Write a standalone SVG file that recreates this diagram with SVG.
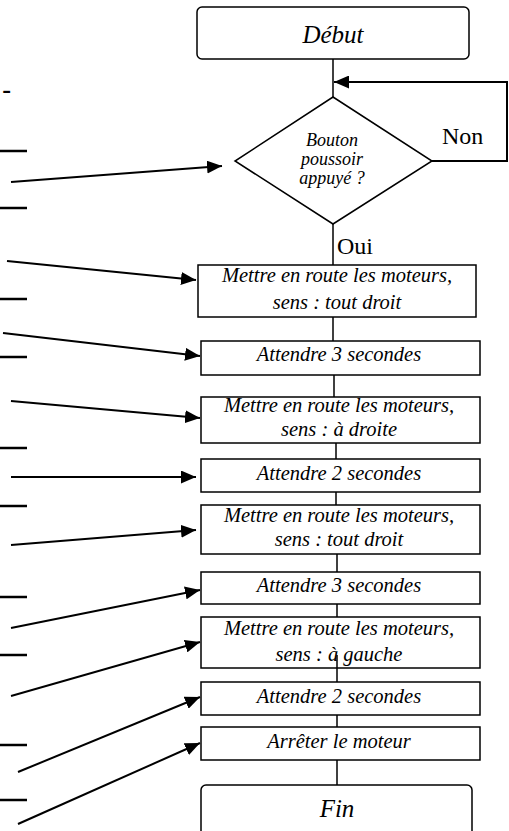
<svg xmlns="http://www.w3.org/2000/svg" width="509" height="831" viewBox="0 0 509 831">
<defs>
<marker id="ah" markerUnits="userSpaceOnUse" markerWidth="16" markerHeight="13" refX="15" refY="6.5" orient="auto">
<path d="M0,0 L15,6.5 L0,13 z" fill="#000"/>
</marker>
<style>
.box{fill:#fff;stroke:#000;stroke-width:1.5}
.ln{fill:none;stroke:#000;stroke-width:1.5}
.ar{fill:none;stroke:#000;stroke-width:2;marker-end:url(#ah)}
.bl{stroke:#000;stroke-width:2.5}
.t{font-family:"Liberation Serif","Times New Roman",serif;font-style:italic;text-anchor:middle;fill:#000}
.s{font-size:20.5px}
.d{font-size:18px}
.big{font-size:25px}
.lab{font-family:"Liberation Serif","Times New Roman",serif;font-size:24px;fill:#000}
</style>
</defs>
<rect width="509" height="831" fill="#fff"/>
<text x="2" y="99" font-family="Liberation Sans, Arial, sans-serif" font-size="28">-</text>
<g id="blanks">
<line class="bl" x1="0" y1="151" x2="27" y2="151"/>
<line class="bl" x1="0" y1="208" x2="27" y2="208"/>
<line class="bl" x1="0" y1="299" x2="27" y2="299"/>
<line class="bl" x1="0" y1="357" x2="27" y2="357"/>
<line class="bl" x1="0" y1="448" x2="27" y2="448"/>
<line class="bl" x1="0" y1="506" x2="27" y2="506"/>
<line class="bl" x1="0" y1="597" x2="27" y2="597"/>
<line class="bl" x1="0" y1="655" x2="27" y2="655"/>
<line class="bl" x1="0" y1="745" x2="27" y2="745"/>
<line class="bl" x1="0" y1="800" x2="27" y2="800"/>
</g>
<g id="connectors">
<line class="ln" x1="333" y1="59" x2="333" y2="97"/>
<line class="ln" x1="333" y1="224" x2="333" y2="265"/>
<line class="ln" x1="333" y1="317" x2="333" y2="341"/>
<line class="ln" x1="334" y1="375" x2="334" y2="397"/>
<line class="ln" x1="336" y1="443" x2="336" y2="459"/>
<line class="ln" x1="336" y1="492" x2="336" y2="505"/>
<line class="ln" x1="337" y1="554" x2="337" y2="572"/>
<line class="ln" x1="337" y1="604" x2="337" y2="617"/>
<line class="ln" x1="337" y1="668" x2="337" y2="682"/>
<line class="ln" x1="337" y1="715" x2="337" y2="727"/>
<line class="ln" x1="337" y1="760" x2="337" y2="785"/>
<path class="ar" d="M432,161 H507 V82 H334"/>
<line class="ar" x1="11" y1="182" x2="222" y2="166"/>
<line class="ar" x1="7" y1="261" x2="196" y2="280"/>
<line class="ar" x1="3" y1="333" x2="200" y2="356"/>
<line class="ar" x1="11" y1="401" x2="200" y2="418"/>
<line class="ar" x1="11" y1="477" x2="196" y2="477"/>
<line class="ar" x1="11" y1="545" x2="196" y2="530"/>
<line class="ar" x1="11" y1="628" x2="200" y2="590"/>
<line class="ar" x1="11" y1="696" x2="200" y2="642"/>
<line class="ar" x1="18" y1="772" x2="200" y2="697"/>
<line class="ar" x1="18" y1="824" x2="200" y2="743"/>
<text class="lab" x="442" y="144">Non</text>
<text class="lab" x="337" y="254">Oui</text>
</g>
<g id="debut">
<rect class="box" x="197" y="7" width="272" height="52" rx="5"/>
<text class="t big" x="333" y="43">Début</text>
</g>
<g id="decision">
<polygon class="box" points="333,97 432,161 333,224 235,161"/>
<text class="t d" x="332" y="146">Bouton</text>
<text class="t d" x="332" y="165">poussoir</text>
<text class="t d" x="332" y="184">appuyé ?</text>
</g>
<g id="step1">
<rect class="box" x="198" y="265" width="278" height="52"/>
<text class="t s" x="337" y="282">Mettre en route les moteurs,</text>
<text class="t s" x="337" y="309">sens : tout droit</text>
</g>
<g id="step2">
<rect class="box" x="201" y="341" width="279" height="34"/>
<text class="t s" x="339" y="361">Attendre 3 secondes</text>
</g>
<g id="step3">
<rect class="box" x="201" y="397" width="279" height="46"/>
<text class="t s" x="339" y="412">Mettre en route les moteurs,</text>
<text class="t s" x="339" y="436">sens : à droite</text>
</g>
<g id="step4">
<rect class="box" x="201" y="459" width="279" height="33"/>
<text class="t s" x="339" y="480">Attendre 2 secondes</text>
</g>
<g id="step5">
<rect class="box" x="201" y="505" width="279" height="49"/>
<text class="t s" x="339" y="522">Mettre en route les moteurs,</text>
<text class="t s" x="339" y="546">sens : tout droit</text>
</g>
<g id="step6">
<rect class="box" x="201" y="572" width="279" height="32"/>
<text class="t s" x="339" y="592">Attendre 3 secondes</text>
</g>
<g id="step7">
<rect class="box" x="201" y="617" width="279" height="51"/>
<text class="t s" x="339" y="635">Mettre en route les moteurs,</text>
<text class="t s" x="339" y="661">sens : à gauche</text>
<line class="ln" x1="337" y1="655" x2="337" y2="668"/>
</g>
<g id="step8">
<rect class="box" x="201" y="682" width="279" height="33"/>
<text class="t s" x="339" y="703">Attendre 2 secondes</text>
</g>
<g id="step9">
<rect class="box" x="201" y="727" width="279" height="33"/>
<text class="t s" x="339" y="748">Arrêter le moteur</text>
</g>
<g id="fin">
<rect class="box" x="201" y="785" width="271" height="60" rx="5"/>
<text class="t big" x="337" y="817">Fin</text>
</g>
</svg>
